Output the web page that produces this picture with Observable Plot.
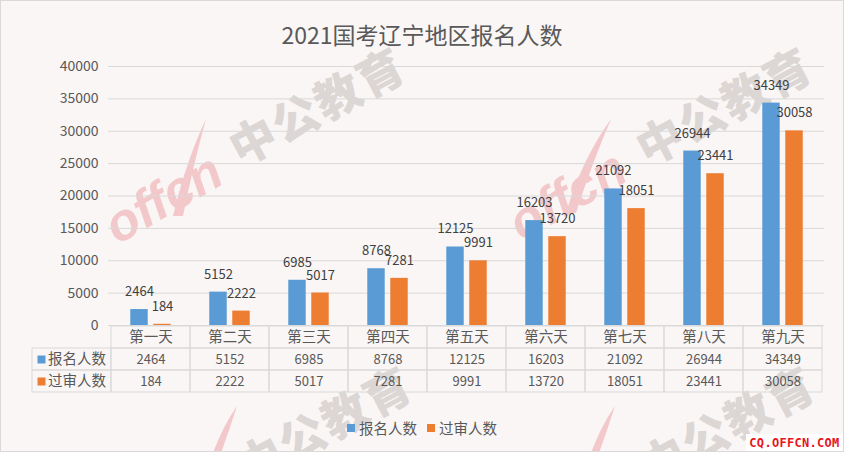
<!DOCTYPE html>
<html><head><meta charset="utf-8">
<script src="https://cdn.jsdelivr.net/npm/d3@7"></script>
<script src="https://cdn.jsdelivr.net/npm/@observablehq/plot@0.6"></script>
<style>
body{margin:0;background:#fff;}
#wrap{position:relative;width:844px;height:452px;background:#FAF6F5;border:1px solid #D9D9D9;box-sizing:border-box;overflow:hidden;font-family:"Noto Sans CJK SC","Noto Sans",sans-serif;color:#595959;}
.wm{position:absolute;white-space:nowrap;transform:translate(-50%,-50%) rotate(-28deg);pointer-events:none;z-index:0;}
.wm.cn{font-size:46px;font-weight:900;color:#DCD6D5;letter-spacing:2px;}
.wm.en{font-size:52px;font-weight:700;font-style:italic;color:#F3C8CA;font-family:"Liberation Sans",sans-serif;transform:translate(-50%,-50%) rotate(-30deg);}
#swoosh{position:absolute;left:0;top:0;z-index:0;pointer-events:none;}
#title{position:relative;z-index:1;height:55px;padding-top:10px;box-sizing:border-box;display:flex;align-items:center;justify-content:center;font-size:23px;color:#595959;}
#chart,#table{position:relative;z-index:1;line-height:0;}
#table{margin-top:-8px;}
#legend{position:relative;z-index:1;display:flex;justify-content:center;align-items:center;padding-top:25px;line-height:16px;font-size:14.5px;color:#595959;}
#legend .it{display:flex;align-items:center;margin:0 5px;}
#legend .sw{width:8px;height:8px;margin-right:4px;}
#site{position:absolute;right:0;bottom:0;z-index:2;background:#fff;width:97px;height:17px;display:flex;align-items:center;justify-content:center;color:#E8141B;font-family:"DejaVu Sans Mono",monospace;font-weight:bold;font-size:12px;letter-spacing:0.3px;}
</style></head><body>
<div id="wrap">
  <svg id="swoosh" width="844" height="452">
    <path d="M172,215 Q185,160 205,118 Q192,165 182,215 Z" fill="#F3C8CA"/>
    <path d="M565,212 Q580,160 610,118 Q590,165 575,212 Z" fill="#F3C8CA"/>
    <path d="M212,452 Q222,425 236,405 Q228,430 220,452 Z" fill="#F3C8CA"/>
    <path d="M590,452 Q600,425 614,405 Q606,430 598,452 Z" fill="#F3C8CA"/>
  </svg>
  <div class="wm en" style="left:162px;top:197px;">offcn</div>
  <div class="wm cn" style="left:315px;top:103px;">中公教育</div>
  <div class="wm en" style="left:566px;top:194px;">offcn</div>
  <div class="wm cn" style="left:722px;top:103px;">中公教育</div>
  <div class="wm cn" style="left:322px;top:422px;">中公教育</div>
  <div class="wm cn" style="left:725px;top:422px;">中公教育</div>
  <div id="title">2021国考辽宁地区报名人数</div>
  <div id="chart"></div>
  <div id="table"></div>
  <div id="legend"></div>
  <div id="site">CQ.OFFCN.COM</div>
</div>
<script>
const days = ["第一天","第二天","第三天","第四天","第五天","第六天","第七天","第八天","第九天"];
const signup = [2464,5152,6985,8768,12125,16203,21092,26944,34349];
const approved = [184,2222,5017,7281,9991,13720,18051,23441,30058];
const seriesNames = ["报名人数","过审人数"];
const colors = ["#5B9BD5","#ED7D31"];
const yTicks = [0,5000,10000,15000,20000,25000,30000,35000,40000];

const font = '"Noto Sans CJK SC","Noto Sans",sans-serif';
const rowsA = days.map((d,i)=>({day:d, value:signup[i]}));
const rowsB = days.map((d,i)=>({day:d, value:approved[i]}));

const W = 842;
const mL = 107, mR = 19;
const bw = (W - mL - mR) / days.length;
const half = bw/2;

const chart = Plot.plot({
  width: W, height: 277,
  marginTop: 10, marginBottom: 8, marginLeft: mL, marginRight: mR,
  x: {domain: days, padding: 0, axis: null},
  y: {domain: [0, 40000], axis: null},
  style: {background: "transparent", fontFamily: font, color: "#595959", overflow: "visible"},
  marks: [
    Plot.ruleY(yTicks, {stroke: "#D9D9D9", strokeWidth: 1}),
    Plot.axisY({ticks: yTicks, tickSize: 0, tickPadding: 10, label: null, fontSize: 14, tickFormat: d => String(d)}),
    Plot.barY(rowsA, {x: "day", y: "value", fill: colors[0], insetLeft: half - 20.5, insetRight: half + 2.5}),
    Plot.barY(rowsB, {x: "day", y: "value", fill: colors[1], insetLeft: half + 2.5, insetRight: half - 20.5}),
    Plot.text(rowsA, {x: "day", y: "value", text: d => String(d.value), dx: -11.5, dy: -13.5, lineAnchor: "bottom", fontSize: 13, fill: "#404040"}),
    Plot.text(rowsB, {x: "day", y: "value", text: d => String(d.value), dx: 11.5, dy: -13.5, lineAnchor: "bottom", fontSize: 13, fill: "#404040"})
  ]
});
document.getElementById("chart").appendChild(chart);

const cols = ["", ...days];
const rowKeys = ["h","a","b"];
const cells = [];
for (const c of cols) for (const r of rowKeys) if (!(c === "" && r === "h")) cells.push({col: c, row: r});

const table = Plot.plot({
  width: W, height: 70,
  marginTop: 0, marginBottom: 2, marginLeft: 28, marginRight: mR,
  x: {domain: cols, padding: 0, axis: null},
  y: {domain: rowKeys, padding: 0, axis: null},
  style: {background: "transparent", fontFamily: font, color: "#595959", overflow: "visible"},
  marks: [
    Plot.cell(cells, {x: "col", y: "row", fill: "none", stroke: "#D9D9D9"}),
    Plot.text(days, {x: d => d, y: () => "h", text: d => d, fontSize: 14.5, fill: "#595959"}),
    Plot.text(rowsA, {x: "day", y: () => "a", text: d => String(d.value), fontSize: 13, fill: "#595959"}),
    Plot.text(rowsB, {x: "day", y: () => "b", text: d => String(d.value), fontSize: 13, fill: "#595959"}),
    Plot.text([seriesNames[0]], {x: () => "", y: () => "a", text: d => d, dx: 5, fontSize: 14.5, fill: "#595959"}),
    Plot.text([seriesNames[1]], {x: () => "", y: () => "b", text: d => d, dx: 5, fontSize: 14.5, fill: "#595959"}),
    Plot.dot([seriesNames[0]], {x: () => "", y: () => "a", symbol: "square", r: 4.5, fill: colors[0], dx: -30.5}),
    Plot.dot([seriesNames[1]], {x: () => "", y: () => "b", symbol: "square", r: 4.5, fill: colors[1], dx: -30.5})
  ]
});
document.getElementById("table").appendChild(table);

const legend = document.getElementById("legend");
seriesNames.forEach((n, i) => {
  const it = document.createElement("div");
  it.className = "it";
  const sw = document.createElement("span");
  sw.className = "sw";
  sw.style.background = colors[i];
  const tx = document.createElement("span");
  tx.textContent = n;
  it.appendChild(sw); it.appendChild(tx);
  legend.appendChild(it);
});
</script>
</body></html>
